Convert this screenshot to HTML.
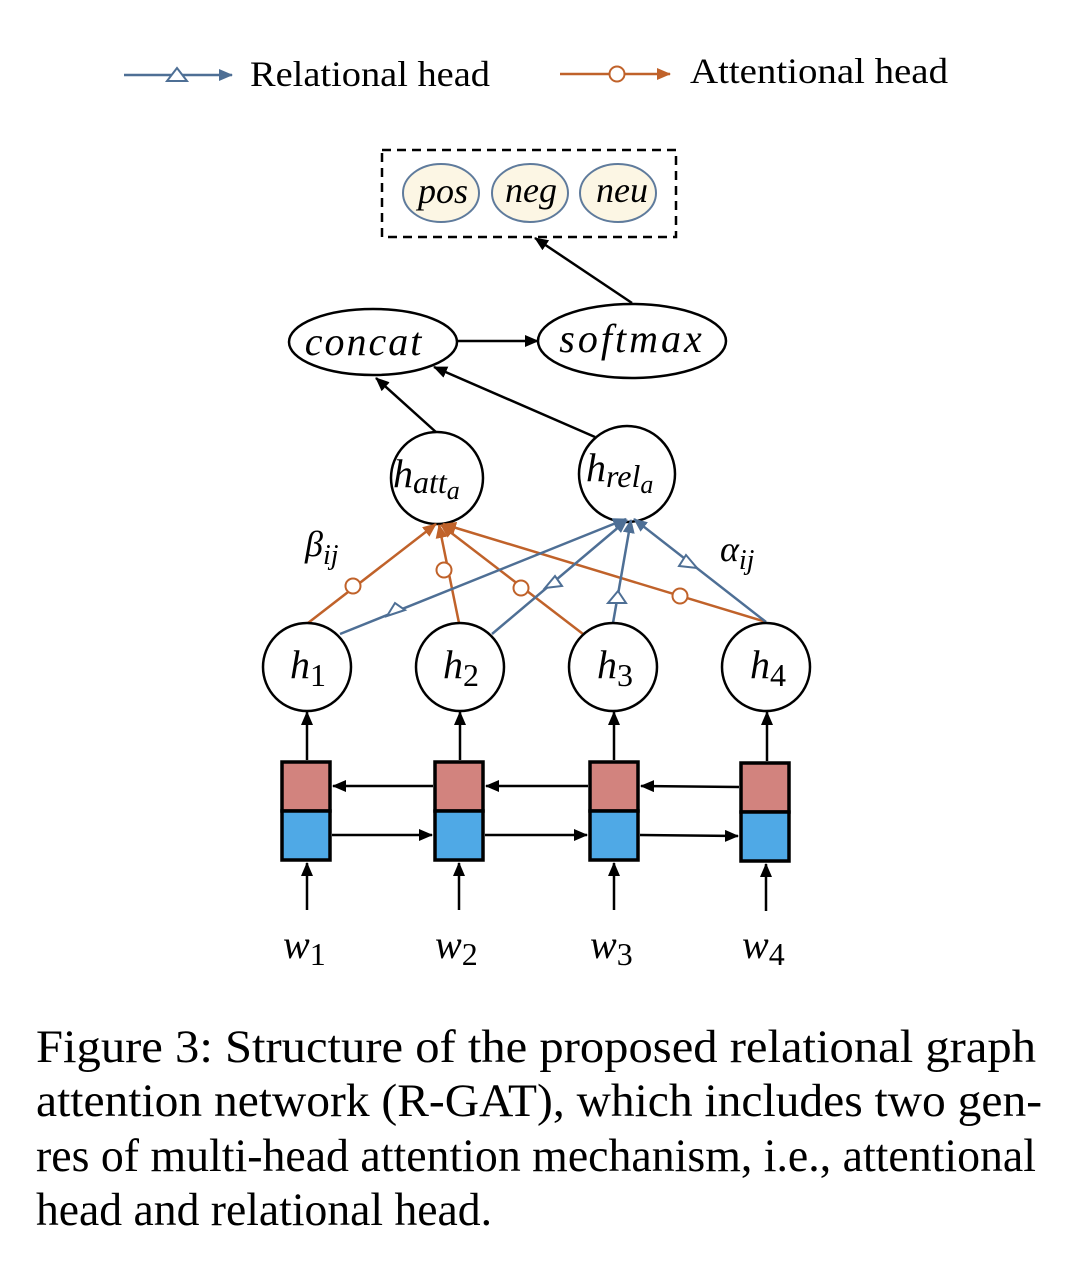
<!DOCTYPE html>
<html><head><meta charset="utf-8"><style>
html,body{margin:0;padding:0;background:#fff;}
svg{display:block;}
</style></head><body>
<svg width="1066" height="1272" viewBox="0 0 1066 1272" xmlns="http://www.w3.org/2000/svg" font-family="Liberation Serif, serif">
<defs>
<marker id="ak" markerWidth="14" markerHeight="12" refX="13" refY="6" orient="auto" markerUnits="userSpaceOnUse"><path d="M0,0 L14,6 L0,12 z" fill="#000"/></marker>
<marker id="ab" markerWidth="14" markerHeight="12" refX="13" refY="6" orient="auto" markerUnits="userSpaceOnUse"><path d="M0,0 L14,6 L0,12 z" fill="#4e6f95"/></marker>
<marker id="ao" markerWidth="14" markerHeight="12" refX="13" refY="6" orient="auto" markerUnits="userSpaceOnUse"><path d="M0,0 L14,6 L0,12 z" fill="#c0622a"/></marker>
</defs>
<!-- legend -->
<line x1="124" y1="75" x2="232" y2="75" stroke="#4e6f95" stroke-width="2.5" marker-end="url(#ab)"/>
<polygon points="167,81 187,81 177,68" fill="#fff" stroke="#4e6f95" stroke-width="2"/>
<text x="250" y="86" font-size="36" textLength="240" lengthAdjust="spacingAndGlyphs">Relational head</text>
<line x1="560" y1="74" x2="670" y2="74" stroke="#c0622a" stroke-width="2.5" marker-end="url(#ao)"/>
<circle cx="617" cy="74" r="7.5" fill="#fff" stroke="#c0622a" stroke-width="2"/>
<text x="690" y="83" font-size="36" textLength="258" lengthAdjust="spacingAndGlyphs">Attentional head</text>
<!-- output box -->
<rect x="382" y="150" width="294" height="87" fill="none" stroke="#000" stroke-width="2.5" stroke-dasharray="9,6"/>
<g fill="#fcf6e4" stroke="#5f7b9c" stroke-width="2">
<ellipse cx="441" cy="193" rx="38" ry="29"/>
<ellipse cx="530" cy="193" rx="38" ry="29"/>
<ellipse cx="618" cy="193" rx="38" ry="29"/>
</g>
<g font-style="italic" font-size="36" text-anchor="middle">
<text x="443" y="203">pos</text>
<text x="531" y="202">neg</text>
<text x="622" y="202">neu</text>
</g>
<line x1="632" y1="303" x2="535" y2="238" stroke="#000" stroke-width="2.5" marker-end="url(#ak)"/>
<ellipse cx="373" cy="342" rx="84" ry="33" fill="#fff" stroke="#000" stroke-width="2.5"/>
<ellipse cx="632" cy="341" rx="94" ry="37" fill="#fff" stroke="#000" stroke-width="2.5"/>
<text x="364" y="355" font-style="italic" font-size="40" text-anchor="middle" letter-spacing="2">concat</text>
<text x="632" y="352" font-style="italic" font-size="40" text-anchor="middle" letter-spacing="3">softmax</text>
<line x1="458" y1="341" x2="538" y2="341" stroke="#000" stroke-width="2.5" marker-end="url(#ak)"/>
<line x1="437" y1="433" x2="376" y2="378" stroke="#000" stroke-width="2.5" marker-end="url(#ak)"/>
<line x1="595" y1="437" x2="434" y2="367" stroke="#000" stroke-width="2.5" marker-end="url(#ak)"/>
<!-- h att / rel -->
<circle cx="437" cy="478" r="46" fill="#fff" stroke="#000" stroke-width="2.5"/>
<circle cx="627" cy="474" r="48" fill="#fff" stroke="#000" stroke-width="2.5"/>
<text x="393" y="487" font-style="italic" font-size="40">h<tspan font-size="32" dy="6">att</tspan><tspan font-size="26" dy="6">a</tspan></text>
<text x="586" y="481" font-style="italic" font-size="40">h<tspan font-size="32" dy="6">rel</tspan><tspan font-size="26" dy="6">a</tspan></text>
<!-- orange edges -->
<g stroke="#c0622a" stroke-width="2.5" fill="none">
<line x1="308" y1="623" x2="436" y2="524" marker-end="url(#ao)"/>
<line x1="459" y1="623" x2="439" y2="525" marker-end="url(#ao)"/>
<line x1="583" y1="634" x2="441" y2="525" marker-end="url(#ao)"/>
<line x1="766" y1="622" x2="443" y2="524" marker-end="url(#ao)"/>
</g>
<g stroke="#c0622a" stroke-width="2" fill="#fff">
<circle cx="353" cy="586" r="7.5"/><circle cx="444" cy="570" r="7.5"/><circle cx="521" cy="588" r="7.5"/><circle cx="680" cy="596" r="7.5"/>
</g>
<!-- blue edges -->
<g stroke="#4e6f95" stroke-width="2.5" fill="none">
<line x1="340" y1="634" x2="626" y2="519" marker-end="url(#ab)"/>
<line x1="492" y1="634" x2="627" y2="520" marker-end="url(#ab)"/>
<line x1="613" y1="623" x2="631" y2="520" marker-end="url(#ab)"/>
<line x1="766" y1="622" x2="634" y2="519" marker-end="url(#ab)"/>
</g>
<g stroke="#4e6f95" stroke-width="2" fill="#fff">
<polygon points="387,616 405,610 395,603"/>
<polygon points="545,588 562,586 555,576"/>
<polygon points="608,603 626,603 618,591"/>
<polygon points="679,566 697,568 686,555"/>
</g>
<text x="305" y="556" font-style="italic" font-size="36">β<tspan font-size="28" dy="8">ij</tspan></text>
<text x="720" y="561" font-style="italic" font-size="36">α<tspan font-size="28" dy="8">ij</tspan></text>
<!-- h nodes -->
<g fill="#fff" stroke="#000" stroke-width="2.5">
<circle cx="307" cy="667" r="44"/><circle cx="460" cy="667" r="44"/><circle cx="613" cy="667" r="44"/><circle cx="766" cy="667" r="44"/>
</g>
<g font-style="italic" font-size="40">
<text x="290" y="678">h<tspan font-size="32" font-style="normal" dy="8">1</tspan></text>
<text x="443" y="678">h<tspan font-size="32" font-style="normal" dy="8">2</tspan></text>
<text x="597" y="678">h<tspan font-size="32" font-style="normal" dy="8">3</tspan></text>
<text x="750" y="678">h<tspan font-size="32" font-style="normal" dy="8">4</tspan></text>
</g>
<!-- LSTM boxes -->
<g stroke="#000" stroke-width="3.5">
<rect x="282" y="762" width="48" height="49" fill="#d2837e"/><rect x="282" y="811" width="48" height="49" fill="#4fa9e6"/>
<rect x="435" y="762" width="48" height="49" fill="#d2837e"/><rect x="435" y="811" width="48" height="49" fill="#4fa9e6"/>
<rect x="590" y="762" width="48" height="49" fill="#d2837e"/><rect x="590" y="811" width="48" height="49" fill="#4fa9e6"/>
<rect x="741" y="763" width="48" height="49" fill="#d2837e"/><rect x="741" y="812" width="48" height="49" fill="#4fa9e6"/>
</g>
<g stroke="#000" stroke-width="2.5" marker-end="url(#ak)">
<line x1="307" y1="760" x2="307" y2="712"/><line x1="460" y1="760" x2="460" y2="712"/><line x1="614" y1="760" x2="614" y2="712"/><line x1="767" y1="761" x2="767" y2="712"/>
<line x1="307" y1="910" x2="307" y2="863"/><line x1="459" y1="910" x2="459" y2="863"/><line x1="614" y1="910" x2="614" y2="863"/><line x1="766" y1="911" x2="766" y2="864"/>
<line x1="433" y1="786" x2="333" y2="786"/><line x1="588" y1="786" x2="486" y2="786"/><line x1="739" y1="787" x2="641" y2="786"/>
<line x1="332" y1="835" x2="432" y2="835"/><line x1="640" y1="835" x2="738" y2="836"/><line x1="485" y1="835" x2="587" y2="835"/>
</g>
<g font-style="italic" font-size="40">
<text x="283" y="958">w<tspan font-size="32" font-style="normal" dy="7">1</tspan></text>
<text x="435" y="958">w<tspan font-size="32" font-style="normal" dy="7">2</tspan></text>
<text x="590" y="958">w<tspan font-size="32" font-style="normal" dy="7">3</tspan></text>
<text x="742" y="958">w<tspan font-size="32" font-style="normal" dy="7">4</tspan></text>
</g>
<!-- caption -->
<g font-size="47">
<text x="36" y="1062" textLength="1000" lengthAdjust="spacingAndGlyphs">Figure 3:  Structure of the proposed relational graph</text>
<text x="36" y="1116" textLength="1006" lengthAdjust="spacingAndGlyphs">attention network (R-GAT), which includes two gen-</text>
<text x="36" y="1171" textLength="1000" lengthAdjust="spacingAndGlyphs">res of multi-head attention mechanism, i.e., attentional</text>
<text x="36" y="1225" textLength="456" lengthAdjust="spacingAndGlyphs">head and relational head.</text>
</g>
</svg>
</body></html>
